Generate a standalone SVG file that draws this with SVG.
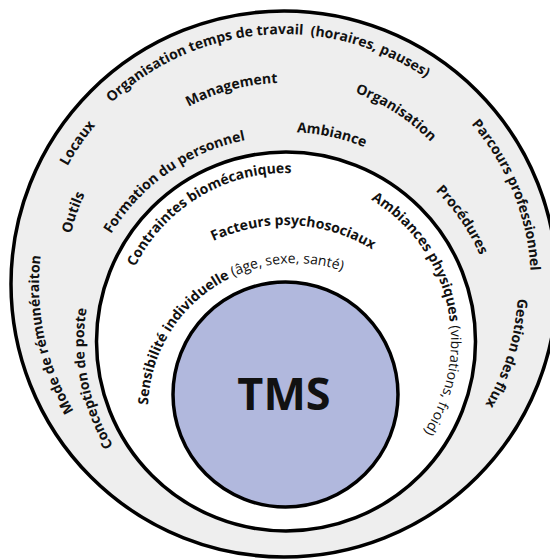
<svg xmlns="http://www.w3.org/2000/svg" width="550" height="559" viewBox="0 0 550 559">
<style>
.ring{stroke:#000;stroke-width:3.5}
.lbl{font-family:"Open Sans","Liberation Sans",sans-serif;font-size:14px;font-weight:700;fill:#111}
.reg{font-weight:400}
.tms{font-family:"Open Sans","Liberation Sans",sans-serif;font-size:45px;font-weight:700;fill:#111}
</style>
<defs>
<path id="p-org-temps" d="M79.7,139.2 A251,251 0 0 1 463.0,109.1"/>
<path id="p-management" d="M141.2,142.2 A201,201 0 0 1 336.3,89.9"/>
<path id="p-organisation" d="M312.5,82.0 A205,205 0 0 1 457.8,176.4"/>
<path id="p-locaux" d="M44.9,223.2 A247,247 0 0 1 140.6,83.9"/>
<path id="p-outils" d="M65.0,288.8 A219,219 0 0 1 113.8,147.2"/>
<path id="p-mode" d="M101.9,448.9 A245,245 0 0 1 51.0,209.3"/>
<path id="p-parcours" d="M436.1,90.4 A247,247 0 0 1 528.6,319.4"/>
<path id="p-gestion" d="M515.7,252.4 A234,234 0 0 1 457.9,441.6"/>
<path id="p-formation" d="M93.4,270.9 A205,205 0 0 1 286,136"/>
<path id="p-ambiance" d="M258.7,133.8 A209,209 0 0 1 398.3,164.7"/>
<path id="p-procedures" d="M393.6,158.3 A212,212 0 0 1 495.1,306.0"/>
<path id="p-conception" d="M133.6,473.5 A202,202 0 0 1 95.0,275.2"/>
<path id="p-contraintes" d="M123.0,300.4 A168,168 0 0 1 326.6,178.0"/>
<path id="p-facteurs" d="M172.6,268.2 A168,168 0 0 1 409.8,280.6"/>
<path id="p-ambiances" d="M371.0,199.6 A165,165 0 0 1 392.1,467.4"/>
<path id="p-sensibilite" d="M148.1,404.9 A147,147 0 0 1 379.3,289.6"/>
</defs>

<g id="ring-outer">
<circle class="ring" cx="284" cy="284" r="273" fill="#eeeeee"/>
</g>
<g id="ring-middle">
<circle class="ring" cx="286" cy="341.5" r="189.5" fill="#ffffff"/>
</g>
<g id="core-tms">
<circle class="ring" cx="285.5" cy="394.5" r="112.5" fill="#b1b8dd"/>
<text class="tms" x="284" y="410" text-anchor="middle">TMS</text>
</g>

<g id="outer-labels">
<g id="lbl-org-temps"><text class="lbl" text-anchor="middle"><textPath href="#p-org-temps" startOffset="50%">Organisation temps de travail&#160; (horaires, pauses)</textPath></text></g>
<g id="lbl-management"><text class="lbl" text-anchor="middle"><textPath href="#p-management" startOffset="50%">Management</textPath></text></g>
<g id="lbl-organisation"><text class="lbl" text-anchor="middle"><textPath href="#p-organisation" startOffset="50%">Organisation</textPath></text></g>
<g id="lbl-locaux"><text class="lbl" text-anchor="middle"><textPath href="#p-locaux" startOffset="50%">Locaux</textPath></text></g>
<g id="lbl-outils"><text class="lbl" text-anchor="middle"><textPath href="#p-outils" startOffset="50%">Outils</textPath></text></g>
<g id="lbl-mode"><text class="lbl" text-anchor="middle"><textPath href="#p-mode" startOffset="50%">Mode de rémunéraiton</textPath></text></g>
<g id="lbl-parcours"><text class="lbl" text-anchor="middle"><textPath href="#p-parcours" startOffset="50%">Parcours professionnel</textPath></text></g>
<g id="lbl-gestion"><text class="lbl" text-anchor="middle"><textPath href="#p-gestion" startOffset="50%">Gestion des flux</textPath></text></g>
<g id="lbl-formation"><text class="lbl" text-anchor="middle"><textPath href="#p-formation" startOffset="50%">Formation du personnel</textPath></text></g>
<g id="lbl-ambiance"><text class="lbl" text-anchor="middle"><textPath href="#p-ambiance" startOffset="50%">Ambiance</textPath></text></g>
<g id="lbl-procedures"><text class="lbl" text-anchor="middle"><textPath href="#p-procedures" startOffset="50%">Procédures</textPath></text></g>
<g id="lbl-conception"><text class="lbl" text-anchor="middle"><textPath href="#p-conception" startOffset="50%">Conception de poste</textPath></text></g>
</g>

<g id="middle-labels">
<g id="lbl-contraintes"><text class="lbl" text-anchor="middle"><textPath href="#p-contraintes" startOffset="50%">Contraintes biomécaniques</textPath></text></g>
<g id="lbl-facteurs"><text class="lbl" text-anchor="middle"><textPath href="#p-facteurs" startOffset="50%">Facteurs psychosociaux</textPath></text></g>
<g id="lbl-ambiances"><text class="lbl"><textPath href="#p-ambiances">Ambiances physiques <tspan class="reg">(vibrations, froid)</tspan></textPath></text></g>
<g id="lbl-sensibilite"><text class="lbl"><textPath href="#p-sensibilite">Sensibilité individuelle <tspan class="reg">(âge, sexe, santé)</tspan></textPath></text></g>
</g>
</svg>
